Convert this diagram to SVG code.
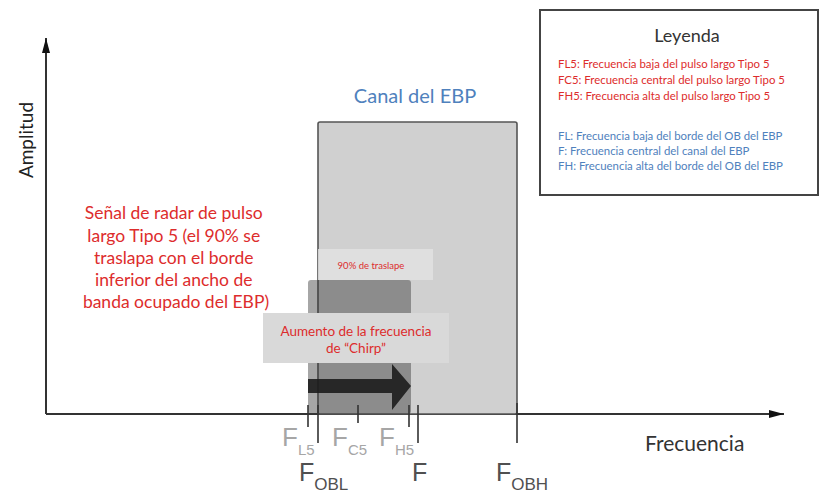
<svg xmlns="http://www.w3.org/2000/svg" width="820" height="493" viewBox="0 0 820 493">
<style>
.sans{font-family:Lato,"Open Sans","Liberation Sans",sans-serif}
.ar{font-family:"Liberation Sans",Arial,sans-serif}
.red{fill:#dd2c2c}
.blue{fill:#4f81bd}
.tick{stroke:#333;stroke-width:1.6}
.lt{fill:#a6a6a6}
.dk{fill:#505050}
</style>
<defs>
<marker id="ah" markerWidth="16" markerHeight="10" refX="15" refY="5" orient="auto" markerUnits="userSpaceOnUse">
<path d="M0,1 L15,5 L0,9 Z" fill="#111"/>
</marker>
</defs>
<rect width="820" height="493" fill="#fff"/>

<g id="connectors">
<line x1="46" y1="414" x2="46" y2="38" stroke="#333" stroke-width="2" marker-end="url(#ah)"/>
<line x1="46" y1="414" x2="784" y2="414" stroke="#333" stroke-width="2" marker-end="url(#ah)"/>
</g>

<g id="axis-labels">
<text class="sans" x="0" y="0" font-size="19" fill="#222" text-anchor="middle" transform="translate(33,140) rotate(-90)">Amplitud</text>
<text class="sans" x="645" y="451" font-size="21" fill="#333">Frecuencia</text>
</g>

<g id="ebp-channel">
<rect x="318" y="122" width="199" height="292" rx="2" fill="#d0d0d0" stroke="#555" stroke-width="1.6"/>
<text class="sans blue" x="415" y="103" font-size="20" text-anchor="middle">Canal del EBP</text>
</g>

<g id="pulse">
<rect x="308" y="280" width="103" height="134" rx="3" fill="#3a3a3a" fill-opacity="0.45"/>
<line x1="318" y1="280" x2="318" y2="414" stroke="#555" stroke-width="1.6"/>
</g>

<g id="overlap-label">
<rect x="318" y="249" width="115" height="31" fill="#e2e2e2" fill-opacity="0.85"/>
<text class="sans red" x="371" y="269" font-size="9.5" text-anchor="middle">90% de traslape</text>
</g>

<g id="chirp-arrow">
<path d="M308,379 L392,379 L392,364 L411,386 L392,410 L392,393 L308,393 Z" fill="#1c1c1c" fill-opacity="0.9"/>
</g>

<g id="chirp-label">
<rect x="263" y="313" width="186" height="50" fill="#d9d9d9"/>
<text class="sans red" x="356" y="336" font-size="13.5" text-anchor="middle">Aumento de la frecuencia</text>
<text class="sans red" x="356" y="353" font-size="13.5" text-anchor="middle">de “Chirp”</text>
</g>

<g id="radar-note">
<text class="sans red" font-size="17.5" text-anchor="middle">
<tspan x="176" y="219">Señal de radar de pulso</tspan>
<tspan x="176" y="242">largo Tipo 5 (el 90% se</tspan>
<tspan x="176" y="264">traslapa con el borde</tspan>
<tspan x="176" y="286">inferior del ancho de</tspan>
<tspan x="176" y="308">banda ocupado del EBP)</tspan>
</text>
</g>

<g id="ticks">
<line class="tick" x1="308" y1="405" x2="308" y2="427"/>
<line class="tick" x1="318" y1="405" x2="318" y2="443"/>
<line class="tick" x1="358" y1="405" x2="358" y2="423"/>
<line class="tick" x1="409" y1="405" x2="409" y2="427"/>
<line class="tick" x1="418" y1="405" x2="418" y2="443"/>
<line class="tick" x1="517" y1="403" x2="517" y2="443"/>
</g>

<g id="freq-labels">
<text class="ar lt" x="282" y="446" font-size="26">F<tspan font-size="15" dy="9">L5</tspan></text>
<text class="ar lt" x="332" y="446" font-size="26">F<tspan font-size="15" dy="9">C5</tspan></text>
<text class="ar lt" x="379" y="446" font-size="26">F<tspan font-size="15" dy="9">H5</tspan></text>
<text class="ar dk" x="299" y="481" font-size="25">F<tspan font-size="17" dy="9">OBL</tspan></text>
<text class="ar dk" x="412" y="481" font-size="25">F</text>
<text class="ar dk" x="496" y="481" font-size="25">F<tspan font-size="17" dy="9">OBH</tspan></text>
</g>

<g id="legend">
<rect x="540" y="10" width="278" height="185" fill="#fff" stroke="#444" stroke-width="2"/>
<text class="sans" x="687" y="42" font-size="18" fill="#333" text-anchor="middle">Leyenda</text>
<text class="sans red" font-size="11.4">
<tspan x="558" y="68">FL5: Frecuencia baja del pulso largo Tipo 5</tspan>
<tspan x="558" y="84">FC5:  Frecuencia central del pulso largo Tipo 5</tspan>
<tspan x="558" y="100">FH5:  Frecuencia alta del pulso largo Tipo 5</tspan>
</text>
<text class="sans blue" font-size="11.4">
<tspan x="558" y="140">FL:  Frecuencia baja del borde del OB del EBP</tspan>
<tspan x="558" y="155">F:  Frecuencia central del canal del EBP</tspan>
<tspan x="558" y="170">FH:  Frecuencia alta del borde del OB del EBP</tspan>
</text>
</g>
</svg>
